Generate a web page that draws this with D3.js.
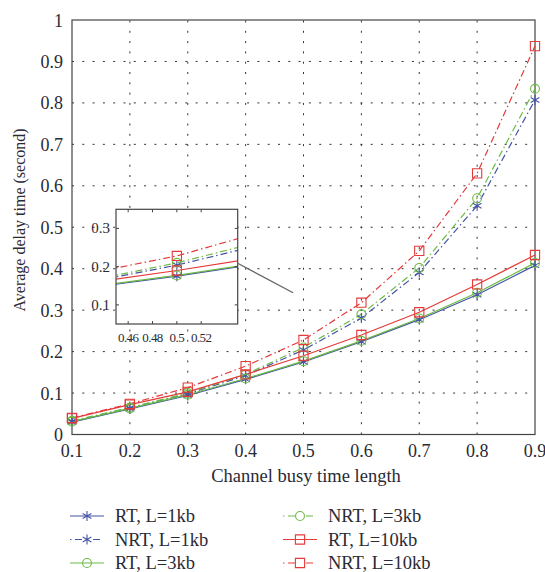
<!DOCTYPE html>
<html>
<head>
<meta charset="utf-8">
<script src="https://cdn.jsdelivr.net/npm/d3@7"></script>
<style>
  body { margin: 0; background: #fff; }
</style>
</head>
<body>
<div class="area"></div>
<script>
// busy time length on x
var busy = [0.1, 0.2, 0.3, 0.4, 0.5, 0.6, 0.7, 0.8, 0.9];
// average delay (second)
var rt1   = [0.030, 0.062, 0.094, 0.133, 0.175, 0.224, 0.277, 0.337, 0.408];
var nrt1  = [0.032, 0.064, 0.098, 0.142, 0.204, 0.281, 0.391, 0.552, 0.807];
var rt3   = [0.031, 0.063, 0.096, 0.135, 0.177, 0.226, 0.280, 0.342, 0.414];
var nrt3  = [0.033, 0.065, 0.100, 0.145, 0.210, 0.290, 0.402, 0.570, 0.834];
var rt10  = [0.039, 0.072, 0.103, 0.145, 0.190, 0.240, 0.295, 0.362, 0.433];
var nrt10 = [0.040, 0.074, 0.113, 0.165, 0.228, 0.318, 0.443, 0.630, 0.937];

var names = ['RT, L=1kb', 'NRT, L=1kb', 'RT, L=3kb', 'NRT, L=3kb', 'RT, L=10kb', 'NRT, L=10kb'];
var values = [rt1, nrt1, rt3, nrt3, rt10, nrt10];
var xTicks = [0.1, 0.2, 0.3, 0.4, 0.5, 0.6, 0.7, 0.8, 0.9];
var yTicks = [0, 0.1, 0.2, 0.3, 0.4, 0.5, 0.6, 0.7, 0.8, 0.9, 1];
var insetXTicks = [0.46, 0.48, 0.5, 0.52];
var insetYTicks = [0.1, 0.2, 0.3];

var colors = ['#4553a4', '#4553a4', '#6cba45', '#6cba45', '#e53a3a', '#e53a3a'];
var dashes = [null, '7,3,1.5,3', null, '7,3,1.5,3', null, '7,3,1.5,3'];
var shapes = [d3.symbolAsterisk, d3.symbolAsterisk, d3.symbolCircle, d3.symbolCircle, d3.symbolSquare, d3.symbolSquare];
var sizes = [70, 70, 62, 62, 85, 85];
var serif = "'Liberation Serif', 'Times New Roman', 'DejaVu Serif', serif";
var ink = '#2a2a35';

var series = names.map(function (n, i) {
    return { name: n, pts: busy.map(function (b, j) { return [b, values[i][j]]; }) };
});

var svg = d3.select('.area')
    .append('svg')
    .attr('width', 545)
    .attr('height', 572)
    .attr('font-family', serif)
    .style('font-family', serif);

var x = d3.scaleLinear().domain([0.1, 0.9]).range([72, 535]);
var y = d3.scaleLinear().domain([0, 1]).range([434.5, 20]);

// dotted grid
svg.append('g').selectAll('line')
    .data(xTicks.slice(1, -1))
    .join('line')
    .attr('x1', d => x(d)).attr('x2', d => x(d))
    .attr('y1', y(0)).attr('y2', y(1))
    .style('stroke', '#333').style('stroke-width', 1)
    .style('stroke-dasharray', '2,8.3');

svg.append('g').selectAll('line')
    .data(yTicks.slice(1, -1))
    .join('line')
    .attr('x1', x(0.1)).attr('x2', x(0.9))
    .attr('y1', d => y(d)).attr('y2', d => y(d))
    .style('stroke', '#333').style('stroke-width', 1)
    .style('stroke-dasharray', '2,8.3');

svg.append('rect')
    .attr('x', x(0.1)).attr('y', y(1))
    .attr('width', x(0.9) - x(0.1)).attr('height', y(0) - y(1))
    .attr('fill', 'none').style('stroke', '#444').style('stroke-width', 1.2);

// tick labels
svg.append('g').selectAll('text')
    .data(xTicks)
    .join('text')
    .attr('x', d => x(d)).attr('y', 457)
    .attr('text-anchor', 'middle')
    .attr('fill', ink)
    .style('font-size', '18px')
    .text(d => d);

svg.append('g').selectAll('text')
    .data(yTicks)
    .join('text')
    .attr('x', 63).attr('y', d => y(d) + 6.5)
    .attr('text-anchor', 'end')
    .attr('fill', ink)
    .style('font-size', '18px')
    .text(d => d);

svg.append('text')
    .attr('x', 306).attr('y', 482)
    .attr('text-anchor', 'middle')
    .attr('fill', ink)
    .style('font-size', '18.5px')
    .text('Channel busy time length');

svg.append('text')
    .attr('transform', 'translate(25,220) rotate(-90)')
    .attr('text-anchor', 'middle')
    .attr('fill', ink)
    .style('font-size', '16px')
    .text('Average delay time (second)');

function drawSeries(g, xs, ys, filterX) {
    var line = d3.line().x(d => xs(d[0])).y(d => ys(d[1]));
    series.forEach(function (s, i) {
        g.append('path')
            .attr('d', line(s.pts))
            .attr('fill', 'none')
            .style('stroke', colors[i])
            .style('stroke-width', 1.2)
            .style('stroke-dasharray', dashes[i]);
    });
    series.forEach(function (s, i) {
        g.append('g').selectAll('path')
            .data(s.pts.filter(filterX))
            .join('path')
            .attr('transform', d => 'translate(' + xs(d[0]) + ',' + ys(d[1]) + ')')
            .attr('d', d3.symbol(shapes[i], sizes[i]))
            .attr('fill', 'none')
            .style('stroke', colors[i])
            .style('stroke-width', 1.1);
    });
}

drawSeries(svg.append('g'), x, y, function () { return true; });

// inset zoom
var ix = d3.scaleLinear().domain([0.45, 0.55]).range([116, 237.7]);
var iy = d3.scaleLinear().domain([0.05, 0.35]).range([324, 209.3]);

svg.append('defs').append('clipPath').attr('id', 'insetClip')
    .append('rect')
    .attr('x', ix(0.45)).attr('y', iy(0.35))
    .attr('width', ix(0.55) - ix(0.45)).attr('height', iy(0.05) - iy(0.35));

svg.append('rect')
    .attr('x', ix(0.45)).attr('y', iy(0.35))
    .attr('width', ix(0.55) - ix(0.45)).attr('height', iy(0.05) - iy(0.35))
    .attr('fill', '#fff');

drawSeries(svg.append('g').attr('clip-path', 'url(#insetClip)'), ix, iy,
    function (d) { return d[0] > 0.45 && d[0] < 0.55; });

svg.append('rect')
    .attr('x', ix(0.45)).attr('y', iy(0.35))
    .attr('width', ix(0.55) - ix(0.45)).attr('height', iy(0.05) - iy(0.35))
    .attr('fill', 'none').style('stroke', '#444').style('stroke-width', 1.2);

var it = svg.append('g').style('stroke', '#444').style('stroke-width', 1);
insetXTicks.forEach(function (t) {
    it.append('line').attr('x1', ix(t)).attr('x2', ix(t)).attr('y1', iy(0.05)).attr('y2', iy(0.05) - 3);
    it.append('line').attr('x1', ix(t)).attr('x2', ix(t)).attr('y1', iy(0.35)).attr('y2', iy(0.35) + 3);
});
insetYTicks.forEach(function (t) {
    it.append('line').attr('x1', ix(0.45)).attr('x2', ix(0.45) + 3).attr('y1', iy(t)).attr('y2', iy(t));
    it.append('line').attr('x1', ix(0.55)).attr('x2', ix(0.55) - 3).attr('y1', iy(t)).attr('y2', iy(t));
});

svg.append('g').selectAll('text')
    .data(insetXTicks)
    .join('text')
    .attr('x', d => ix(d)).attr('y', 342)
    .attr('text-anchor', 'middle')
    .attr('fill', ink)
    .style('font-size', '13px')
    .style('letter-spacing', '-0.6px')
    .text(d => d);

svg.append('g').selectAll('text')
    .data(insetYTicks)
    .join('text')
    .attr('x', 110).attr('y', d => iy(d) + 5)
    .attr('text-anchor', 'end')
    .attr('fill', ink)
    .style('font-size', '15px')
    .text(d => d);

// pointer from inset to the zoomed area
svg.append('line')
    .attr('x1', ix(0.55)).attr('y1', iy(0.209))
    .attr('x2', x(0.482)).attr('y2', y(0.342))
    .style('stroke', '#666').style('stroke-width', 1.3);

// legend
var leg = svg.append('g');
names.forEach(function (n, i) {
    var col = Math.floor(i / 3), row = i % 3;
    var lx = col === 0 ? 70 : 283;
    var ly = 516 + row * 23.5;
    leg.append('line')
        .attr('x1', lx).attr('x2', lx + 34)
        .attr('y1', ly).attr('y2', ly)
        .style('stroke', colors[i]).style('stroke-width', 1.2)
        .style('stroke-dasharray', dashes[i] ? '1.5,3.5,7,11,7,20' : null);
    leg.append('path')
        .attr('transform', 'translate(' + (lx + 17) + ',' + ly + ')')
        .attr('d', d3.symbol(shapes[i], sizes[i]))
        .attr('fill', 'none')
        .style('stroke', colors[i]).style('stroke-width', 1.1);
    leg.append('text')
        .attr('x', lx + 45).attr('y', ly + 6)
        .attr('fill', ink)
        .style('font-size', '18.5px')
        .text(n);
});
</script>
</body>
</html>
